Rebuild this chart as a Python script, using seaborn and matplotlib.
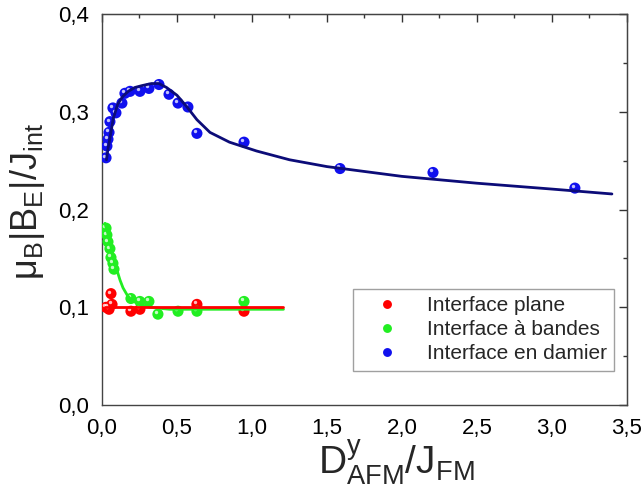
import pandas as pd
import matplotlib
matplotlib.use("Agg")
import matplotlib.pyplot as plt
import matplotlib.transforms as mtransforms
from matplotlib.ticker import MultipleLocator, FuncFormatter, NullFormatter
import seaborn as sns

# === Data ===
plane_x = [0.027, 0.040, 0.047, 0.060, 0.067, 0.193, 0.253, 0.633, 0.947]
plane_y = [0.100, 0.100, 0.098, 0.114, 0.103, 0.096, 0.098, 0.103, 0.096]

bandes_x = [0.027, 0.033, 0.040, 0.053, 0.060, 0.073, 0.080, 0.193, 0.253,
            0.313, 0.373, 0.507, 0.633, 0.947]
bandes_y = [0.181, 0.174, 0.167, 0.160, 0.151, 0.145, 0.139, 0.109, 0.106,
            0.106, 0.093, 0.096, 0.096, 0.106]

damier_x = [0.027, 0.033, 0.040, 0.047, 0.053, 0.073, 0.093, 0.133, 0.153,
            0.187, 0.253, 0.313, 0.380, 0.447, 0.507, 0.573, 0.633, 0.947,
            1.587, 2.207, 3.153]
damier_y = [0.253, 0.265, 0.272, 0.279, 0.290, 0.304, 0.299, 0.309, 0.319,
            0.321, 0.321, 0.324, 0.328, 0.318, 0.309, 0.305, 0.278, 0.269,
            0.242, 0.238, 0.222]

# fitted curves
plane_fit_x = [0.02, 1.21]
plane_fit_y = [0.100, 0.100]

bandes_fit_x = [0.02, 0.04, 0.06, 0.08, 0.10, 0.12, 0.14, 0.17, 0.20, 0.25,
                0.32, 0.45, 1.21]
bandes_fit_y = [0.186, 0.175, 0.162, 0.149, 0.138, 0.128, 0.120, 0.112, 0.107,
                0.103, 0.100, 0.098, 0.098]

damier_fit_x = [0.03, 0.04, 0.055, 0.075, 0.105, 0.14, 0.175, 0.22, 0.27, 0.33,
                0.38, 0.43, 0.50, 0.567, 0.633, 0.72, 0.85, 1.03, 1.25, 1.5,
                2.0, 2.5, 3.0, 3.4]
damier_fit_y = [0.251, 0.262, 0.275, 0.293, 0.308, 0.316, 0.321, 0.325, 0.327,
                0.329, 0.329, 0.325, 0.317, 0.305, 0.292, 0.279, 0.269, 0.260,
                0.251, 0.244, 0.234, 0.227, 0.221, 0.216]

labels = ["Interface plane", "Interface à bandes", "Interface en damier"]
point_colors = ["#ff0000", "#22ee22", "#1010ee"]
line_colors = ["#ff0000", "#22ee22", "#0c0c78"]

pts = pd.concat([
    pd.DataFrame({"x": plane_x, "y": plane_y, "serie": labels[0]}),
    pd.DataFrame({"x": bandes_x, "y": bandes_y, "serie": labels[1]}),
    pd.DataFrame({"x": damier_x, "y": damier_y, "serie": labels[2]}),
])
fits = [(plane_fit_x, plane_fit_y), (bandes_fit_x, bandes_fit_y),
        (damier_fit_x, damier_fit_y)]

# === Plot ===
sns.set_style("white")
plt.rcParams["font.family"] = ["Liberation Sans", "DejaVu Sans"]
plt.rcParams["mathtext.fontset"] = "custom"
plt.rcParams["mathtext.rm"] = "Liberation Sans"
plt.rcParams["mathtext.it"] = "Liberation Sans"
plt.rcParams["mathtext.default"] = "regular"

fig = plt.figure(figsize=(6.43, 4.88), dpi=100)
ax = fig.add_axes([0.1586, 0.170, 0.8164, 0.801])

pal = dict(zip(labels, point_colors))
sns.scatterplot(data=pts, x="x", y="y", hue="serie", palette=pal, s=64,
                edgecolor="none", ax=ax, zorder=3)

# small highlight on each ball
shift = mtransforms.ScaledTranslation(-1.5 / 72, 1.5 / 72, fig.dpi_scale_trans)
ax.scatter(pts["x"], pts["y"], s=6, color="white", alpha=0.75, lw=0,
           transform=ax.transData + shift, zorder=4)

# fits: blue first, then green, then red on top
for i in [2, 1, 0]:
    fx, fy = fits[i]
    sns.lineplot(x=fx, y=fy, color=line_colors[i], lw=2.0, ax=ax,
                 zorder=5, legend=False)

ax.set_xlim(0, 3.5)
ax.set_ylim(0, 0.4)
comma = FuncFormatter(lambda v, p: f"{v:.1f}".replace(".", ","))

ax.xaxis.set_major_locator(MultipleLocator(0.5))
ax.xaxis.set_minor_locator(MultipleLocator(0.25))
ax.yaxis.set_major_locator(MultipleLocator(0.1))
ax.yaxis.set_minor_locator(MultipleLocator(0.05))
ax.xaxis.set_major_formatter(comma)
ax.yaxis.set_major_formatter(comma)
ax.tick_params(axis="both", which="both", direction="out", color="#333333",
               labelcolor="black", labelsize=16, width=1, pad=2)
ax.tick_params(which="major", length=7)
ax.tick_params(which="minor", length=4)

# inward ticks on top and right
top = ax.secondary_xaxis("top")
top.xaxis.set_major_locator(MultipleLocator(0.5))
top.xaxis.set_minor_locator(MultipleLocator(0.25))
top.xaxis.set_major_formatter(NullFormatter())
right = ax.secondary_yaxis("right")
right.yaxis.set_major_locator(MultipleLocator(0.1))
right.yaxis.set_minor_locator(MultipleLocator(0.05))
right.yaxis.set_major_formatter(NullFormatter())
for a in [top, right]:
    a.tick_params(which="both", direction="in", color="#333333", width=1)
    a.tick_params(which="major", length=6)
    a.tick_params(which="minor", length=3)
    for sp in a.spines.values():
        sp.set_color("#444444")

for sp in ax.spines.values():
    sp.set_color("#444444")
    sp.set_linewidth(1.0)

ax.set_xlabel(r"$D^{y}_{AFM}/J_{FM}$", fontsize=28)
ax.xaxis.set_label_coords(0.56, -0.085, transform=ax.transAxes)
ax.xaxis.label.set_va("top")
ax.set_ylabel(r"$\mu_{B}|B_{E}|/J_{int}$", fontsize=26)
ax.yaxis.set_label_coords(-0.105, 0.52, transform=ax.transAxes)

leg = ax.legend(loc="lower right", bbox_to_anchor=(0.975, 0.088), fontsize=15,
                frameon=True, fancybox=False, edgecolor="#888888",
                handletextpad=0.6, borderpad=0.35, labelspacing=0.25,
                markerscale=0.8, handlelength=2.6, borderaxespad=0)
leg.get_frame().set_linewidth(1.0)

plt.savefig("out.png", dpi=100)
plt.close()
